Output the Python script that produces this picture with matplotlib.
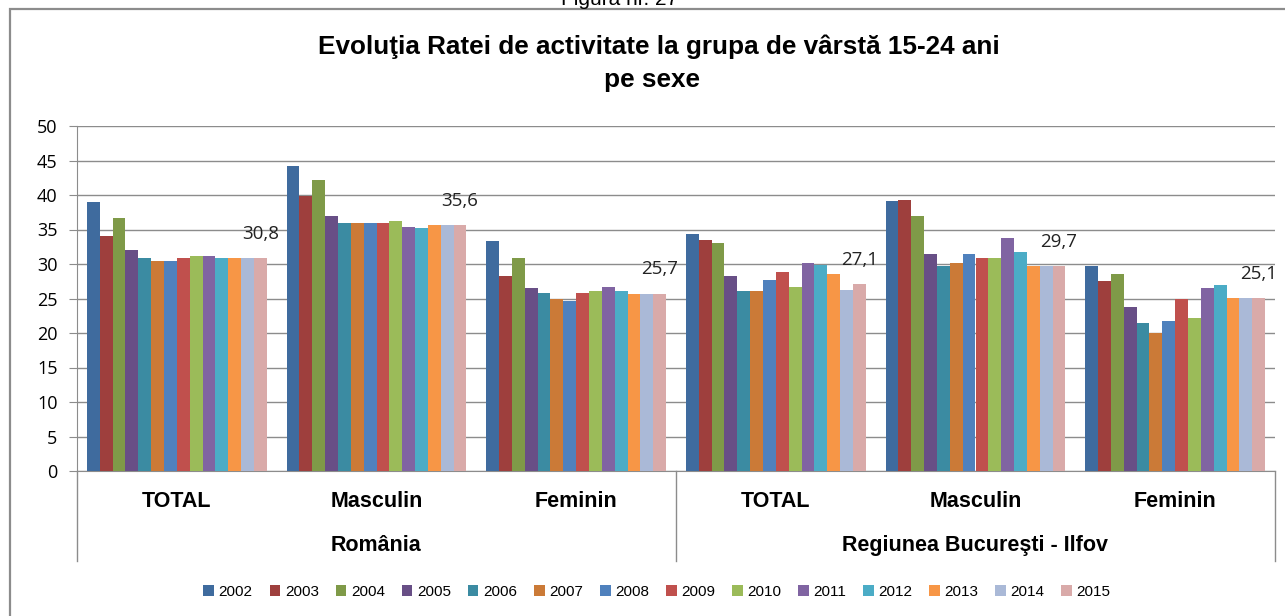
import matplotlib
matplotlib.use("Agg")
import matplotlib.pyplot as plt
import numpy as np
from matplotlib.lines import Line2D
from matplotlib.patches import Rectangle

years = ["2002", "2003", "2004", "2005", "2006", "2007", "2008",
         "2009", "2010", "2011", "2012", "2013", "2014", "2015"]
subcats = ["TOTAL", "Masculin", "Feminin", "TOTAL", "Masculin", "Feminin"]
regions = ["România", "Regiunea Bucureşti - Ilfov"]

# values per subcategory, one per year (2002..2015)
ro_total = [39.0, 34.1, 36.7, 32.0, 30.9, 30.4, 30.4, 30.9, 31.1, 31.1, 30.9, 30.8, 30.8, 30.8]
ro_masc = [44.2, 39.9, 42.2, 36.9, 35.9, 35.9, 35.9, 35.9, 36.2, 35.3, 35.2, 35.6, 35.6, 35.6]
ro_fem = [33.3, 28.2, 30.9, 26.5, 25.8, 25.0, 24.6, 25.8, 26.1, 26.6, 26.1, 25.7, 25.7, 25.7]
bi_total = [34.3, 33.5, 33.1, 28.2, 26.1, 26.1, 27.7, 28.9, 26.6, 30.2, 29.9, 28.5, 26.3, 27.1]
bi_masc = [39.1, 39.3, 36.9, 31.4, 29.7, 30.2, 31.4, 30.8, 30.9, 33.7, 31.8, 29.7, 29.7, 29.7]
bi_fem = [29.7, 27.5, 28.5, 23.7, 21.5, 20.0, 21.7, 25.0, 22.2, 26.5, 27.0, 25.1, 25.1, 25.1]

groups = [ro_total, ro_masc, ro_fem, bi_total, bi_masc, bi_fem]

colors = ["#3F6B9E", "#9E3F3D", "#7F9A48", "#684F86", "#3B8BA2", "#CB7A37", "#4F81BD",
          "#C0504D", "#9BBB59", "#8064A2", "#4BACC6", "#F79646", "#AAB9D7", "#D9AAA9"]

W, H = 1285, 616
fig = plt.figure(figsize=(W / 100, H / 100), dpi=100)
ax = fig.add_axes([77 / W, 1 - 471 / H, (1275 - 77) / W, (471 - 126) / H])

arial = ["Liberation Sans", "DejaVu Sans"]
calib = ["Open Sans", "DejaVu Sans"]

n_years = len(years)
n_groups = len(groups)
x = np.arange(n_groups)
total_w = 0.9
bw = total_w / n_years
data = np.array(groups)  # groups x years

for i, yr in enumerate(years):
    offs = -total_w / 2 + bw * (i + 0.5)
    ax.bar(x + offs, data[:, i], width=bw, color=colors[i], label=yr,
           linewidth=0, zorder=3)

# data labels on last year's bar
last_off = -total_w / 2 + bw * (n_years - 0.5)
for g in range(n_groups):
    v = data[g, -1]
    ax.annotate(f"{v:.1f}".replace(".", ","), (x[g] + last_off, v),
                xytext=(0, 11), textcoords="offset points", ha="center", va="bottom",
                fontsize=13.5, family=calib, color="#222222")

ax.set_xlim(-0.5, n_groups - 0.5)
ax.set_ylim(0, 50)
ax.set_yticks(np.arange(0, 51, 5))
ax.yaxis.grid(True, color="#8C8C8C", linewidth=1.0, zorder=0)
ax.set_axisbelow(True)
for s in ["top", "right"]:
    ax.spines[s].set_visible(False)
ax.spines["left"].set_color("#8C8C8C")
ax.spines["bottom"].set_color("#8C8C8C")
ax.tick_params(axis="y", length=6, color="#8C8C8C", labelsize=13, pad=8)
for lbl in ax.get_yticklabels():
    lbl.set_family(calib)
ax.set_xticks([])

trans = ax.get_xaxis_transform()
for g in range(n_groups):
    ax.text(x[g], -0.087, subcats[g], transform=trans, ha="center", va="center",
            fontsize=15.5, fontweight="bold", family=arial, clip_on=False)
for r, name in enumerate(regions):
    ax.text(r * 3 + 1, -0.217, name, transform=trans, ha="center", va="center",
            fontsize=15.5, fontweight="bold", family=arial, clip_on=False)
for xd in [-0.5, 2.5, 5.5]:
    ax.add_line(Line2D([xd, xd], [0, -0.261], transform=trans, color="#8C8C8C",
                       linewidth=1.0, clip_on=False))

# title
fig.text(659 / W, 1 - 47 / H, "Evoluţia Ratei de activitate la grupa de vârstă 15-24 ani",
         ha="center", va="center", fontsize=18.8, fontweight="bold", family=arial)
fig.text(652 / W, 1 - 80 / H, "pe sexe", ha="center", va="center",
         fontsize=18.8, fontweight="bold", family=arial)

# caption at the top edge (cut off in the reference too)
fig.text(620 / W, 1 - 5 / H, "Figura nr. 27", ha="center", va="baseline",
         fontsize=15, family=arial)

# outer frame
fig.add_artist(Rectangle((10 / W, -0.05), 1.2, 1 - 9 / H + 0.05, transform=fig.transFigure,
                         fill=False, edgecolor="#8C8C8C", linewidth=1.6))

leg = fig.legend(loc="center", bbox_to_anchor=(657 / W, 1 - 592 / H), ncol=n_years,
                 frameon=False, handlelength=0.7, handleheight=0.7, handletextpad=0.3,
                 columnspacing=1.1, prop={"family": arial, "size": 11})

fig.savefig("out.png", dpi=100)
